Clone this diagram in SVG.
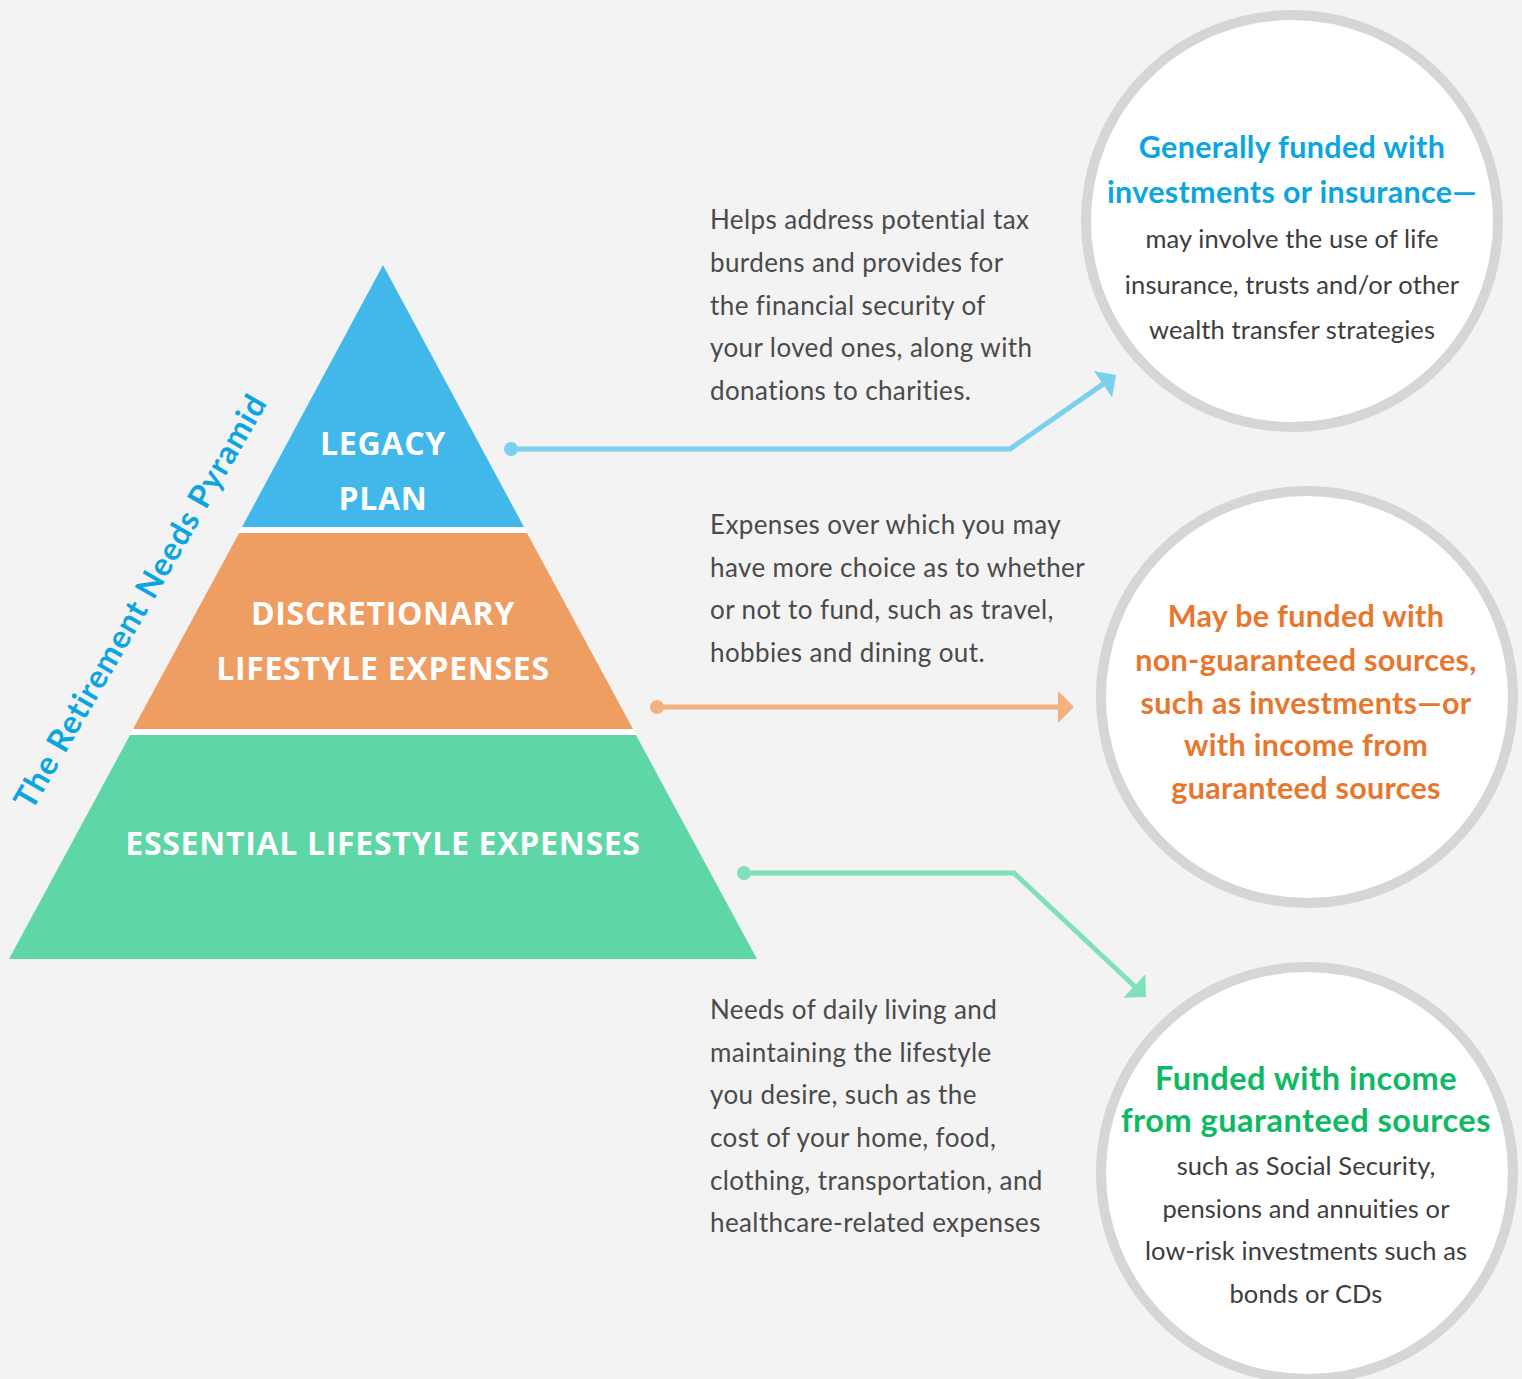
<svg xmlns="http://www.w3.org/2000/svg" width="1522" height="1379" viewBox="0 0 1522 1379">
<defs>
<style>
.body{font-family:Lato,"Noto Sans",sans-serif;font-size:26px;letter-spacing:0.4px;fill:#4a4a4a}
.cbody{font-family:Lato,"Noto Sans",sans-serif;font-size:25.5px;letter-spacing:0.1px;fill:#3d3d3d;text-anchor:middle}
.head{font-family:Lato,"Noto Sans",sans-serif;font-size:30.5px;letter-spacing:0.3px;font-weight:700;text-anchor:middle}
.headg{font-family:Lato,"Noto Sans",sans-serif;font-size:32.5px;letter-spacing:0.5px;font-weight:700;text-anchor:middle;fill:#0dba63}
.pyr{font-family:"Open Sans","Noto Sans",sans-serif;font-size:32px;letter-spacing:0.7px;font-weight:700;fill:#ffffff;text-anchor:middle}
.ring{fill:#ffffff;stroke:#d5d6d8;stroke-width:10}
</style>
<marker id="ahBlue" markerUnits="userSpaceOnUse" markerWidth="20" markerHeight="34" viewBox="0 -17 17 34" refX="8" refY="0" orient="auto"><path d="M0,-16 L16,0 L0,16 z" fill="#7bd0ee"/></marker>
<marker id="ahOrange" markerUnits="userSpaceOnUse" markerWidth="20" markerHeight="34" viewBox="0 -17 17 34" refX="8" refY="0" orient="auto"><path d="M0,-16 L16,0 L0,16 z" fill="#f4b07f"/></marker>
<marker id="ahGreen" markerUnits="userSpaceOnUse" markerWidth="20" markerHeight="34" viewBox="0 -17 17 34" refX="8" refY="0" orient="auto"><path d="M0,-16 L16,0 L0,16 z" fill="#80e0b8"/></marker>
</defs>
<rect width="1522" height="1379" fill="#f3f3f3"/>

<g id="pyramid">
<polygon points="383,265 757,959 9,959" fill="#ffffff"/>
<g id="legacy">
<polygon points="383,265 524,527 242,527" fill="#42b8ea"/>
<text class="pyr" x="383" y="455">LEGACY</text>
<text class="pyr" x="383" y="510">PLAN</text>
</g>
<g id="discretionary">
<polygon points="239,533 527,533 633,729 133,729" fill="#ee9d63"/>
<text class="pyr" x="383" y="625">DISCRETIONARY</text>
<text class="pyr" x="383" y="680">LIFESTYLE EXPENSES</text>
</g>
<g id="essential">
<polygon points="130,735 636,735 757,959 9,959" fill="#5ed6a6"/>
<text class="pyr" x="383" y="855">ESSENTIAL LIFESTYLE EXPENSES</text>
</g>
</g>

<g id="title">
<text x="150" y="607" transform="rotate(-60 150 607)" font-family="Lato,'Noto Sans',sans-serif" font-size="32" letter-spacing="1" font-weight="700" fill="#0ba5e1" text-anchor="middle">The Retirement Needs Pyramid</text>
</g>

<g id="desc-legacy">
<text class="body" x="710" y="229">Helps address potential tax</text>
<text class="body" x="710" y="272">burdens and provides for</text>
<text class="body" x="710" y="315">the financial security of</text>
<text class="body" x="710" y="357">your loved ones, along with</text>
<text class="body" x="710" y="400">donations to charities.</text>
</g>
<g id="desc-discretionary">
<text class="body" x="710" y="534">Expenses over which you may</text>
<text class="body" x="710" y="577">have more choice as to whether</text>
<text class="body" x="710" y="619">or not to fund, such as travel,</text>
<text class="body" x="710" y="662">hobbies and dining out.</text>
</g>
<g id="desc-essential">
<text class="body" x="710" y="1019">Needs of daily living and</text>
<text class="body" x="710" y="1062">maintaining the lifestyle</text>
<text class="body" x="710" y="1104">you desire, such as the</text>
<text class="body" x="710" y="1147">cost of your home, food,</text>
<text class="body" x="710" y="1190">clothing, transportation, and</text>
<text class="body" x="710" y="1232">healthcare-related expenses</text>
</g>

<g id="connectors">
<path d="M511,449 L1010,449 L1109.5,379.6" fill="none" stroke="#7bd0ee" stroke-width="5" marker-end="url(#ahBlue)"/>
<circle cx="511" cy="449" r="7" fill="#7bd0ee"/>
<path d="M657,707 L1066,707" fill="none" stroke="#f4b07f" stroke-width="5" marker-end="url(#ahOrange)"/>
<circle cx="657" cy="707" r="7" fill="#f4b07f"/>
<path d="M744,873 L1014,873 L1140.2,991.5" fill="none" stroke="#80e0b8" stroke-width="5" marker-end="url(#ahGreen)"/>
<circle cx="744" cy="873" r="7" fill="#80e0b8"/>
</g>

<g id="circle-legacy">
<circle class="ring" cx="1292" cy="221" r="206"/>
<text class="head" x="1292" y="158" fill="#0ba5e1">Generally funded with</text>
<text class="head" x="1292" y="203" fill="#0ba5e1">investments or insurance—</text>
<text class="cbody" x="1292" y="248">may involve the use of life</text>
<text class="cbody" x="1292" y="294">insurance, trusts and/or other</text>
<text class="cbody" x="1292" y="339">wealth transfer strategies</text>
</g>
<g id="circle-discretionary">
<circle class="ring" cx="1307" cy="697" r="206"/>
<text class="head" x="1306" y="627" fill="#e8772e">May be funded with</text>
<text class="head" x="1306" y="671" fill="#e8772e">non-guaranteed sources,</text>
<text class="head" x="1306" y="714" fill="#e8772e">such as investments—or</text>
<text class="head" x="1306" y="756" fill="#e8772e">with income from</text>
<text class="head" x="1306" y="799" fill="#e8772e">guaranteed sources</text>
</g>
<g id="circle-essential">
<circle class="ring" cx="1307" cy="1173" r="206"/>
<text class="headg" x="1306" y="1090">Funded with income</text>
<text class="headg" x="1306" y="1132">from guaranteed sources</text>
<text class="cbody" x="1306" y="1175">such as Social Security,</text>
<text class="cbody" x="1306" y="1218">pensions and annuities or</text>
<text class="cbody" x="1306" y="1260">low-risk investments such as</text>
<text class="cbody" x="1306" y="1303">bonds or CDs</text>
</g>
</svg>
